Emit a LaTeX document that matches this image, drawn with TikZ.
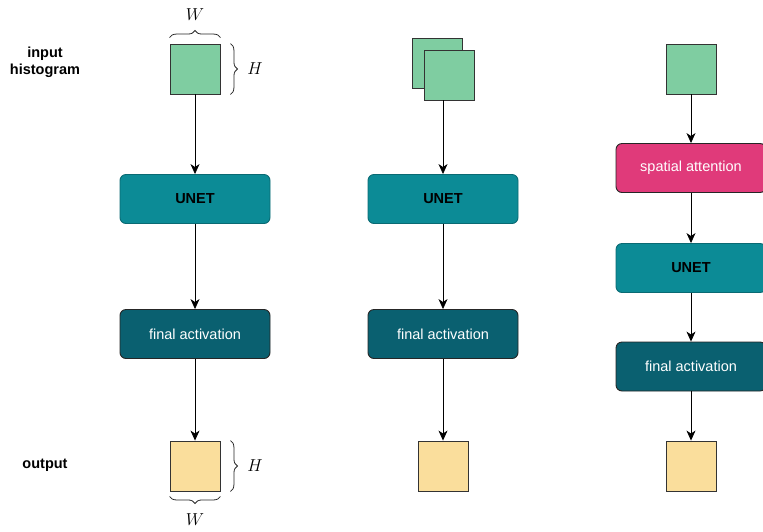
\documentclass[tikz,border=0pt]{standalone}
\usepackage{fontspec}
\setmainfont{Liberation Sans}
\usetikzlibrary{arrows.meta,decorations.pathreplacing,positioning}

\definecolor{histgreen}{HTML}{7FCDA1}
\definecolor{outyellow}{HTML}{FADE9C}
\definecolor{unetteal}{HTML}{0C8B96}
\definecolor{unetedge}{HTML}{0A6A73}
\definecolor{actteal}{HTML}{0A6070}
\definecolor{attpink}{HTML}{E03A7A}

\begin{document}
\begin{tikzpicture}[x=1pt,y=-1pt,
	sq/.style={draw=black!80,minimum size=50pt,inner sep=0pt,line width=0.9pt},
	block/.style={rounded corners=6pt,minimum width=150pt,minimum height=49pt,inner sep=0pt,line width=0.9pt,font=\fontsize{14.5}{17}\selectfont},
	arr/.style={-{Stealth[length=10pt,width=9pt,inset=3pt]},line width=0.8pt},
	brace/.style={decorate,decoration={brace,amplitude=7pt},line width=0.8pt,black!85},
	lbl/.style={font=\fontsize{14.5}{17}\selectfont\bfseries,align=center},
	dim/.style={font=\fontsize{16}{18}\selectfont}]
	\useasboundingbox (0,0) rectangle (763,531);
	\clip (0,0) rectangle (763,531); % the last column runs off the page
	
	% row labels
	\node[lbl] (lblin) at (45,62) {input\\histogram};
	\node[lbl] (lblout) at (45,465) {output};
	
	% first column: plain
	\node[sq,fill=histgreen] (in1) at (195,69) {};
	\node[block,fill=unetteal,draw=unetedge,font=\fontsize{14.5}{17}\selectfont\bfseries] (unet1) at (195,199) {UNET};
	\node[block,fill=actteal,draw=black!85,text=white] (act1) at (195,334) {final activation};
	\node[sq,fill=outyellow] (out1) at (195,466) {};
	\draw[arr] (in1) -- (unet1);
	\draw[arr] (unet1) -- (act1);
	\draw[arr] (act1) -- (out1);
	
	% sizes of the histograms
	\draw[brace] ([yshift=6pt]in1.north west) -- ([yshift=6pt]in1.north east);
	\node[dim] (w1) at (195,15) {$W$};
	\draw[brace] ([xshift=10pt]in1.north east) -- ([xshift=10pt]in1.south east);
	\node[dim] (h1) at (255,69) {$H$};
	\draw[brace] ([xshift=10pt]out1.north east) -- ([xshift=10pt]out1.south east);
	\node[dim] (h2) at (255,466) {$H$};
	\draw[brace] ([yshift=-5pt]out1.south east) -- ([yshift=-5pt]out1.south west);
	\node[dim] (w2) at (195,520) {$W$};
	
	% second column: two stacked histograms
	\node[sq,fill=histgreen] (in2a) at (437,63) {};
	\node[sq,fill=histgreen] (in2b) at (449,75) {};
	\node[block,fill=unetteal,draw=unetedge,font=\fontsize{14.5}{17}\selectfont\bfseries] (unet2) at (443,199) {UNET};
	\node[block,fill=actteal,draw=black!85,text=white] (act2) at (443,334) {final activation};
	\node[sq,fill=outyellow] (out2) at (443,466) {};
	\draw[arr] (unet2.north |- in2b.south) -- (unet2);
	\draw[arr] (unet2) -- (act2);
	\draw[arr] (act2) -- (out2);
	
	% third column: with spatial attention
	\node[sq,fill=histgreen] (in3) at (691,69) {};
	\node[block,fill=attpink,draw=black!85,text=white] (att3) at (691,168) {spatial attention};
	\node[block,fill=unetteal,draw=unetedge,font=\fontsize{14.5}{17}\selectfont\bfseries] (unet3) at (691,268) {UNET};
	\node[block,fill=actteal,draw=black!85,text=white] (act3) at (691,366.5) {final activation};
	\node[sq,fill=outyellow] (out3) at (691,466) {};
	\draw[arr] (in3) -- (att3);
	\draw[arr] (att3) -- (unet3);
	\draw[arr] (unet3) -- (act3);
	\draw[arr] (act3) -- (out3);
\end{tikzpicture}
\end{document}
